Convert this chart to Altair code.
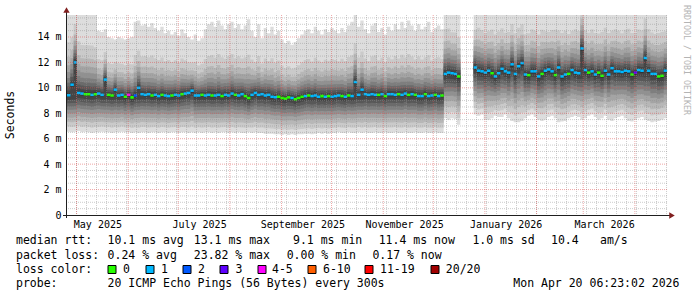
import altair as alt
import pandas as pd

# ---------------- data ----------------
START = "2025-04-25 06:23:02"
END = "2026-04-20 06:23:02"
STEP_DAYS = 2          # one smoke column per 2 days
Y_TOP = 15.73          # upper limit of the value axis (ms)

median_ms = [
    9.42, 10.25, 12.0, 9.6, 9.55, 9.5, 9.5, 9.45, 9.5, 9.55,
    9.45, 10.65, 9.45, 9.4, 9.86, 9.4, 9.45, 9.3, 9.45, 9.25,
    9.4, 10.0, 9.5, 9.45, 9.5, 9.4, 9.45, 9.35, 9.45, 9.4,
    9.35, 9.4, 9.45, 9.4, 9.5, 9.55, 9.6, 9.78, 9.4, 9.4,
    9.45, 9.4, 9.45, 9.4, 9.4, 9.45, 9.35, 9.45, 9.4, 9.55,
    9.45, 9.4, 9.5, 9.35, 9.2, 9.45, 9.6, 9.45, 9.5, 9.4,
    9.45, 9.3, 9.26, 9.3, 9.2, 9.15, 9.25, 9.2, 9.1, 9.2,
    9.3, 9.35, 9.4, 9.35, 9.4, 9.3, 9.35, 9.3, 9.35, 9.3,
    9.35, 9.4, 9.35, 9.3, 9.4, 9.35, 10.46, 9.45, 9.86, 9.5,
    9.45, 9.5, 9.45, 9.45, 9.5, 9.35, 9.5, 9.5, 9.45, 9.5,
    9.45, 9.55, 9.45, 9.5, 9.45, 9.35, 9.35, 9.5, 9.35, 9.4,
    9.45, 9.35, 9.4, 11.1, 11.2, 11.15, 11.1, 10.9, None, None,
    None, None, 11.6, 11.35, 11.3, 11.2, 11.35, 11.15, 10.9, 11.15,
    11.5, 11.3, 11.2, 11.85, 11.1, 11.7, 11.95, 11.05, 11.0, 11.3,
    11.3, 10.9, 11.1, 11.35, 11.45, 11.3, 11.0, 11.6, 10.9, 11.05,
    11.1, 11.4, 11.2, 11.15, 13.1, 11.4, 11.2, 11.3, 11.05, 11.2,
    10.95, 11.35, 11.05, 11.55, 11.3, 11.3, 11.25, 11.35, 11.3, 11.05,
    11.2, 11.4, 11.35, 12.35, 11.35, 11.1, 11.1, 10.9, 10.95, 11.35,
]

loss_class = [
    1, 1, 1, 1, 1, 0, 0, 1, 0, 1, 1, 1, 0, 0, 1, 1, 1, 0, 4, 0,
    2, 1, 1, 1, 1, 0, 1, 1, 0, 1, 1, 0, 1, 1, 0, 1, 1, 1, 1, 1,
    0, 1, 1, 0, 1, 1, 0, 1, 1, 1, 0, 1, 1, 0, 0, 1, 1, 1, 1, 1,
    1, 1, 1, 0, 0, 0, 0, 1, 0, 0, 0, 1, 0, 1, 1, 1, 0, 1, 0, 1,
    1, 1, 0, 1, 0, 1, 1, 1, 1, 1, 1, 1, 1, 0, 1, 0, 1, 1, 1, 0,
    1, 1, 0, 1, 0, 1, 1, 0, 1, 1, 0, 1, 0, 1, 1, 1, 1, 0, None, None,
    None, None, 1, 1, 1, 1, 1, 0, 1, 1, 1, 1, 1, 1, 1, 1, 1, 1, 0, 1,
    1, 1, 0, 1, 1, 1, 0, 1, 1, 1, 0, 1, 1, 1, 1, 1, 0, 1, 1, 0,
    0, 1, 1, 1, 1, 1, 1, 1, 1, 0, 3, 1, 1, 1, 1, 1, 1, 0, 0, 1,
]

ping_min = [
    6.55, 6.5, 6.55, 6.6, 6.5, 6.55, 6.5, 6.45, 6.5, 6.5, 6.55, 6.5, 6.5, 6.45, 6.5, 6.5, 6.55, 6.5, 6.5, 6.45,
    6.5, 6.45, 6.5, 6.5, 6.45, 6.5, 6.5, 6.45, 6.5, 6.5, 6.45, 6.5, 6.5, 6.45, 6.5, 6.5, 6.45, 6.5, 6.45, 6.5,
    6.45, 6.5, 6.5, 6.45, 6.5, 6.45, 6.5, 6.5, 6.45, 6.5, 6.45, 6.5, 6.45, 6.45, 6.5, 6.45, 6.5, 6.45, 6.45, 6.4,
    6.4, 6.4, 6.35, 6.35, 6.3, 6.35, 6.3, 6.35, 6.3, 6.35, 6.35, 6.4, 6.4, 6.35, 6.4, 6.45, 6.4, 6.45, 6.4, 6.45,
    6.45, 6.5, 6.45, 6.45, 6.5, 6.45, 6.45, 6.5, 6.45, 6.5, 6.45, 6.45, 6.5, 6.45, 6.45, 6.5, 6.45, 6.45, 6.5, 6.45,
    6.45, 6.5, 6.45, 6.45, 6.5, 6.45, 6.45, 6.5, 6.45, 6.45, 6.5, 6.45, 6.45, 7.6, 7.5, 7.6, 7.55, 7.1, None, None,
    None, None, 7.9, 7.8, 7.9, 7.5, 7.5, 7.6, 7.8, 7.7, 7.7, 7.9, 7.6, 7.4, 7.3, 7.3, 7.4, 7.6, 7.8, 7.9,
    7.7, 7.5, 7.4, 7.5, 7.7, 7.8, 7.6, 7.3, 7.35, 7.4, 7.6, 7.7, 7.8, 7.7, 7.5, 7.6, 7.8, 7.9, 7.7, 7.5,
    7.6, 7.8, 7.5, 7.4, 7.6, 7.7, 7.8, 7.6, 7.4, 7.35, 7.5, 7.6, 7.7, 7.5, 7.4, 7.3, 7.35, 7.4, 7.5, 7.6,
]

ping_max = [
    17.0, 17.0, 17.5, 17.0, 16.5, 16.5, 16.5, 16.5, 16.2, 14.5,
    14.4, 14.6, 14.0, 13.9, 13.8, 14.0, 13.9, 13.8, 13.9, 14.0,
    15.2, 15.3, 14.9, 15.0, 14.8, 15.1, 14.7, 14.5, 14.8, 14.3,
    14.5, 14.2, 14.4, 14.1, 14.6, 14.3, 14.0, 13.8, 14.2, 13.7,
    13.9, 14.6, 15.0, 15.2, 14.8, 15.3, 14.9, 14.6, 15.0, 15.2,
    14.7, 15.0, 14.6, 14.9, 15.4, 14.5, 14.0, 15.0, 13.9, 14.7,
    14.3, 14.8, 14.2, 14.5, 13.8, 13.5, 13.7, 13.4, 13.6, 13.9,
    14.2, 14.5, 14.6, 14.3, 14.8, 14.5, 14.2, 14.6, 14.4, 14.7,
    14.5, 14.3, 14.7, 14.4, 14.9, 15.2, 16.0, 14.8, 15.3, 14.6,
    14.3, 14.9, 15.1, 14.4, 14.7, 14.2, 14.8, 14.5, 15.0, 14.6,
    15.2, 14.7, 15.3, 14.9, 14.5, 15.0, 14.6, 14.8, 15.2, 14.4,
    14.7, 14.9, 14.6, 17.5, 17.5, 17.0, 17.0, 16.5, None, None,
    None, None, 17.0, 17.5, 17.2, 16.8, 17.0, 17.4, 16.9, 17.1,
    17.3, 16.8, 17.0, 17.6, 16.9, 17.2, 17.5, 16.8, 17.0, 17.3,
    17.1, 16.9, 17.4, 17.0, 16.8, 17.2, 17.5, 16.9, 17.1, 17.3,
    16.8, 17.0, 17.4, 17.2, 19.0, 17.1, 16.9, 17.3, 17.0, 16.8,
    17.2, 17.5, 17.0, 16.9, 17.3, 17.1, 16.8, 17.2, 17.4, 17.0,
    16.9, 17.2, 17.1, 18.0, 17.3, 17.0, 16.8, 17.1, 17.2, 17.0,
]

# columns where the median jumped while most pings stayed near the usual level
spike_cols = [1, 2, 11, 14, 21, 86, 88, 154, 173]
spike_base = [9.45, 9.45, 9.45, 9.45, 9.45, 9.4, 9.45, 11.2, 11.3]

# where the 20 sorted pings sit between min..median and median..max
low_frac = [0.0, 0.14, 0.27, 0.39, 0.50, 0.60, 0.69, 0.78, 0.87, 0.95]
high_frac = [0.02, 0.05, 0.09, 0.13, 0.18, 0.24, 0.31, 0.40, 0.55, 1.00]

smoke_greys = ["#dddddd", "#cacaca", "#b7b7b7", "#a4a4a4", "#919191",
               "#7e7e7e", "#6b6b6b", "#585858", "#454545", "#323232"]

loss_labels = ["0", "1", "2", "3", "4-5", "6-10", "11-19", "20/20"]
loss_colors = ["#26ff00", "#00b8ff", "#0059ff", "#5e00ff",
               "#ff00fe", "#ff5e00", "#ff0000", "#a10000"]

month_starts = ["2025-05-01", "2025-06-01", "2025-07-01", "2025-08-01", "2025-09-01",
                "2025-10-01", "2025-11-01", "2025-12-01", "2026-01-01", "2026-02-01",
                "2026-03-01", "2026-04-01"]
label_months = ["2025-05-01", "2025-07-01", "2025-09-01", "2025-11-01", "2026-01-01", "2026-03-01"]

y_labels = [0, 2, 4, 6, 8, 10, 12, 14]

rtt_row = ["median rtt:", "10.1 ms avg", "13.1 ms max", "9.1 ms min",
           "11.4 ms now", "1.0 ms sd", "10.4", "am/s"]
loss_row = ["packet loss:", "0.24 % avg", "23.82 % max", "0.00 % min", "0.17 % now"]
probe_row = ["probe:", "20 ICMP Echo Pings (56 Bytes) every 300s", "Mon Apr 20 06:23:02 2026"]
color_row_title = "loss color:"
y_title = "Seconds"
watermark = "RRDTOOL / TOBI OETIKER"

# ---------------- layout / style (pixels) ----------------
PAD_L, PAD_T, W, H = 67, 15, 600, 200
FONT = "DejaVu Sans Mono"
rtt_x = [16, 107.6, 193.8, 293, 378.7, 472.4, 551, 600]
loss_x = [16, 107.6, 193.8, 286.7, 372.4]
probe_x = [16, 107.6, 513.3]
box_x = [108, 146, 183, 220, 258, 308, 365, 431]
box_label_x = [123, 161, 198, 235.5, 272, 323, 380, 445.8]
row_y = [241, 255.5, 269.5, 283.5]

# ---------------- build tables ----------------
t_start = pd.Timestamp(START)
t_end = pd.Timestamp(END)
n = len(median_ms)
assert len(loss_class) == n and len(ping_min) == n and len(ping_max) == n


def iso(ts):
    return ts.strftime("%Y-%m-%dT%H:%M:%S")


def dt(ts):
    return alt.DateTime(year=ts.year, month=ts.month, date=ts.day,
                        hours=ts.hour, minutes=ts.minute, seconds=ts.second)


col_t0 = [t_start + pd.Timedelta(days=STEP_DAYS * i) for i in range(n)]
col_t1 = [t_start + pd.Timedelta(days=STEP_DAYS * (i + 1)) for i in range(n)]
spikes = dict(zip(spike_cols, spike_base))

pings = []
for i in range(n):
    m = median_ms[i]
    if m is None:
        pings.append(None)
        continue
    mn, mx = ping_min[i], ping_max[i]
    base = spikes.get(i, m)
    low = [mn + f * (base - mn) for f in low_frac[:9]]
    low.append(m - (1 - low_frac[9]) * (base - mn))
    high = [m + f * (mx - m) for f in high_frac]
    pings.append(low + high)

smoke_rows = []
for k in range(10):
    for i in range(n):
        p = pings[i]
        if p is None:
            continue
        lo = max(0.0, min(Y_TOP, p[k]))
        hi = max(0.0, min(Y_TOP, p[19 - k]))
        smoke_rows.append({"t": iso(col_t0[i]), "band": k, "lo": lo, "hi": hi})
        nxt_missing = (i + 1 >= n) or pings[i + 1] is None
        if nxt_missing:
            smoke_rows.append({"t": iso(col_t1[i]), "band": k, "lo": lo, "hi": hi})
            if i + 1 < n:
                smoke_rows.append({"t": iso(col_t1[i] + pd.Timedelta(days=1)),
                                   "band": k, "lo": None, "hi": None})
smoke_df = pd.DataFrame(smoke_rows)

med_rows = []
for i in range(n):
    m = median_ms[i]
    if m is None:
        continue
    med_rows.append({"t": iso(col_t0[i]), "t_end": iso(col_t1[i] + pd.Timedelta(hours=2)),
                     "mlo": m - 0.1, "mhi": m + 0.1,
                     "c": loss_colors[loss_class[i]]})
med_df = pd.DataFrame(med_rows)

v_major = pd.DataFrame({"t": [iso(pd.Timestamp(s)) for s in month_starts]})
minor_days = pd.date_range(pd.Timestamp(START).normalize() + pd.Timedelta(days=6), t_end, freq="6D")
v_minor = pd.DataFrame({"t": [iso(d) for d in minor_days]})
h_major = pd.DataFrame({"v": [2, 4, 6, 8, 10, 12, 14]})
h_minor = pd.DataFrame({"v": [0.5 * k for k in range(1, 32) if k % 4 != 0]})

label_times = [dt(pd.Timestamp(s) + pd.Timedelta(days=12.5)) for s in label_months]

# ---------------- scales / axes ----------------
xscale = alt.Scale(domain=[dt(t_start), dt(t_end)])
yscale = alt.Scale(domain=[0, Y_TOP], nice=False, zero=True)
xaxis = alt.Axis(values=label_times, format="%B %Y", formatType="time", title=None,
                 ticks=False, domain=False, grid=False, labelFont=FONT, labelFontSize=10,
                 labelColor="#000000", labelPadding=4, labelOverlap=False, labelFlush=False)
yaxis = alt.Axis(values=y_labels, title=None, ticks=False, domain=False, grid=False,
                 labelExpr="datum.value == 0 ? '0\u00a0\u00a0' : datum.value + ' m'",
                 labelFont=FONT, labelFontSize=10, labelColor="#000000", labelPadding=6)


def X(field):
    return alt.X(field, scale=xscale, axis=xaxis)


def Y(field):
    return alt.Y(field, scale=yscale, axis=yaxis, stack=None)


layers = []
for k in range(10):
    layers.append(
        alt.Chart(smoke_df).transform_filter(alt.datum.band == k)
        .mark_area(interpolate="step-after", color=smoke_greys[k], opacity=1)
        .encode(x=X("t:T"), y=Y("lo:Q"), y2="hi:Q")
    )

layers.append(
    alt.Chart(med_df).mark_rect().encode(
        x=X("t:T"), x2="t_end:T", y=Y("mlo:Q"), y2="mhi:Q",
        color=alt.Color("c:N", scale=None))
)

grid_minor = "#8f8f8f"
grid_major = "#de4f4f"
layers.append(alt.Chart(v_minor).mark_rule(color=grid_minor, opacity=0.45, strokeDash=[1, 1], strokeWidth=1)
              .encode(x=X("t:T")))
layers.append(alt.Chart(h_minor).mark_rule(color=grid_minor, opacity=0.45, strokeDash=[1, 1], strokeWidth=1)
              .encode(y=Y("v:Q")))
layers.append(alt.Chart(v_major).mark_rule(color=grid_major, opacity=0.5, strokeDash=[1, 1], strokeWidth=1)
              .encode(x=X("t:T")))
layers.append(alt.Chart(h_major).mark_rule(color=grid_major, opacity=0.5, strokeDash=[1, 1], strokeWidth=1)
              .encode(y=Y("v:Q")))

one = pd.DataFrame({"a": [0]})
axis_col = "#1f1f1f"
arrow_col = "#801f1f"
layers.append(alt.Chart(one).mark_rule(color=axis_col, strokeWidth=1).encode(
    x=alt.value(-0.5), y=alt.value(-4), y2=alt.value(H + 3)))
layers.append(alt.Chart(one).mark_rule(color=axis_col, strokeWidth=1).encode(
    x=alt.value(-4), x2=alt.value(W + 3), y=alt.value(H + 0.5)))
layers.append(alt.Chart(one).mark_point(shape="triangle-up", filled=True, color=arrow_col, size=40, opacity=1)
              .encode(x=alt.value(-0.5), y=alt.value(-5)))
layers.append(alt.Chart(one).mark_point(shape="triangle-right", filled=True, color=arrow_col, size=40, opacity=1)
              .encode(x=alt.value(W + 5), y=alt.value(H + 0.5)))


def text_layer(txt, px, py, size=11.5, color="#000000", angle=0, align="left"):
    return alt.Chart(one).mark_text(font=FONT, fontSize=size, color=color, angle=angle,
                                    align=align, baseline="middle").encode(
        x=alt.value(px - PAD_L), y=alt.value(py - PAD_T), text=alt.value(txt))


for txt, px in zip(rtt_row, rtt_x):
    layers.append(text_layer(txt, px, row_y[0]))
for txt, px in zip(loss_row, loss_x):
    layers.append(text_layer(txt, px, row_y[1]))
layers.append(text_layer(color_row_title, 16, row_y[2]))
for lab, col, bx, lx in zip(loss_labels, loss_colors, box_x, box_label_x):
    layers.append(alt.Chart(one).mark_rect(fill=col, stroke="#000000", strokeWidth=1).encode(
        x=alt.value(bx - PAD_L), x2=alt.value(bx + 8 - PAD_L),
        y=alt.value(row_y[2] - 4 - PAD_T), y2=alt.value(row_y[2] + 4 - PAD_T)))
    layers.append(text_layer(lab, lx, row_y[2]))
for txt, px in zip(probe_row, probe_x):
    layers.append(text_layer(txt, px, row_y[3]))

layers.append(text_layer(y_title, 11, 115, size=11.5, angle=270, align="center"))
layers.append(text_layer(watermark, 686, 60, size=8.3, color="#b4b4b4", angle=90, align="center"))

chart = alt.layer(*layers).properties(
    width=W, height=H,
    padding={"left": PAD_L, "top": PAD_T, "right": 697 - PAD_L - W, "bottom": 297 - PAD_T - H},
    autosize=alt.AutoSizeParams(type="none"),
    background="#ffffff",
).configure_view(stroke=None)

chart.save("out.html", embed_options={"renderer": "svg", "actions": False})
